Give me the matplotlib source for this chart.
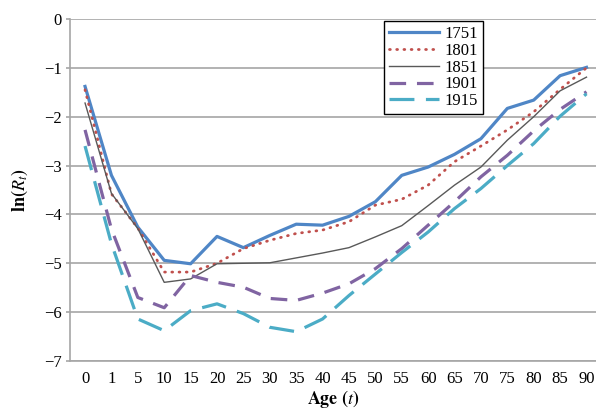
import matplotlib.pyplot as plt
import numpy as np

plt.rcParams['font.family'] = ['Liberation Serif', 'DejaVu Serif']
plt.rcParams['mathtext.fontset'] = 'stix'

ages = ['0', '1', '5', '10', '15', '20', '25', '30', '35', '40', '45',
        '50', '55', '60', '65', '70', '75', '80', '85', '90']
r1751 = [-1.38, -3.20, -4.26, -4.94, -5.01, -4.45, -4.68, -4.43, -4.20, -4.22,
         -4.04, -3.74, -3.20, -3.03, -2.77, -2.45, -1.83, -1.66, -1.16, -0.99]
r1801 = [-1.45, -3.58, -4.28, -5.18, -5.18, -5.00, -4.70, -4.53, -4.39, -4.32,
         -4.15, -3.81, -3.69, -3.40, -2.92, -2.60, -2.27, -1.90, -1.44, -1.00]
r1851 = [-1.72, -3.57, -4.29, -5.39, -5.32, -5.01, -5.00, -4.99, -4.89, -4.79,
         -4.68, -4.46, -4.23, -3.82, -3.40, -3.03, -2.48, -2.00, -1.47, -1.19]
r1901 = [-2.27, -4.30, -5.70, -5.91, -5.25, -5.39, -5.49, -5.72, -5.76, -5.61,
         -5.42, -5.11, -4.70, -4.22, -3.74, -3.23, -2.79, -2.29, -1.85, -1.49]
r1915 = [-2.60, -4.60, -6.14, -6.38, -5.97, -5.83, -6.03, -6.31, -6.40, -6.14,
         -5.66, -5.22, -4.78, -4.36, -3.88, -3.47, -3.00, -2.55, -1.99, -1.53]

x = np.arange(len(ages))
grid_c = '#a6a6a6'

fig = plt.figure(figsize=(5.96, 4.11), dpi=100)
ax = fig.add_axes([70 / 596, 1 - 361 / 411, 1 - 70 / 596, (361 - 19) / 411])

ax.plot(x, r1751, color='#4f86c6', lw=2.3, label='1751')
ax.plot(x, r1801, color='#c0504d', lw=2.0, linestyle=(0, (0.3, 2.3)),
        dash_capstyle='round', label='1801')
ax.plot(x, r1851, color='#595959', lw=1.0, label='1851')
ax.plot(x, r1901, color='#8064a2', lw=2.3, linestyle=(0, (5.2, 3.4)), label='1901')
ax.plot(x, r1915, color='#4bacc6', lw=2.3, linestyle=(0, (7.8, 3.6)), label='1915')

ax.set_xlim(-0.57, 19.36)
ax.set_ylim(-7, 0)
ax.set_xticks(x)
ax.set_xticklabels(ages)
ax.set_yticks(range(-7, 1))
ax.set_yticklabels(['\u22127', '\u22126', '\u22125', '\u22124', '\u22123', '\u22122', '\u22121', '0'])
ax.yaxis.grid(True, color=grid_c, lw=1.2)
ax.set_axisbelow(True)
ax.tick_params(axis='x', length=0, pad=7, labelsize=12)
ax.tick_params(axis='y', length=3, color=grid_c, width=1.2, pad=3, labelsize=12)

for s in ['top', 'right']:
    ax.spines[s].set_visible(False)
ax.spines['left'].set_color(grid_c)
ax.spines['left'].set_linewidth(1.2)
ax.spines['bottom'].set_color(grid_c)
ax.spines['bottom'].set_linewidth(1.2)

ax.set_xlabel(r'$\mathbf{Age\ (}t\mathbf{)}$', fontsize=13, labelpad=1)
ax.set_ylabel(r'$\mathbf{ln(}R_t\mathbf{)}$', fontsize=13, labelpad=10)

leg = ax.legend(loc='upper left', bbox_to_anchor=(384 / 596, 1 - 21 / 411),
                bbox_transform=fig.transFigure, borderaxespad=0, fontsize=12,
                labelspacing=0.05, handlelength=3.0, handletextpad=0.3,
                borderpad=0.3, fancybox=False, framealpha=1)
leg.get_frame().set_edgecolor('black')
leg.get_frame().set_linewidth(1.0)

fig.savefig('out.png', dpi=100)
